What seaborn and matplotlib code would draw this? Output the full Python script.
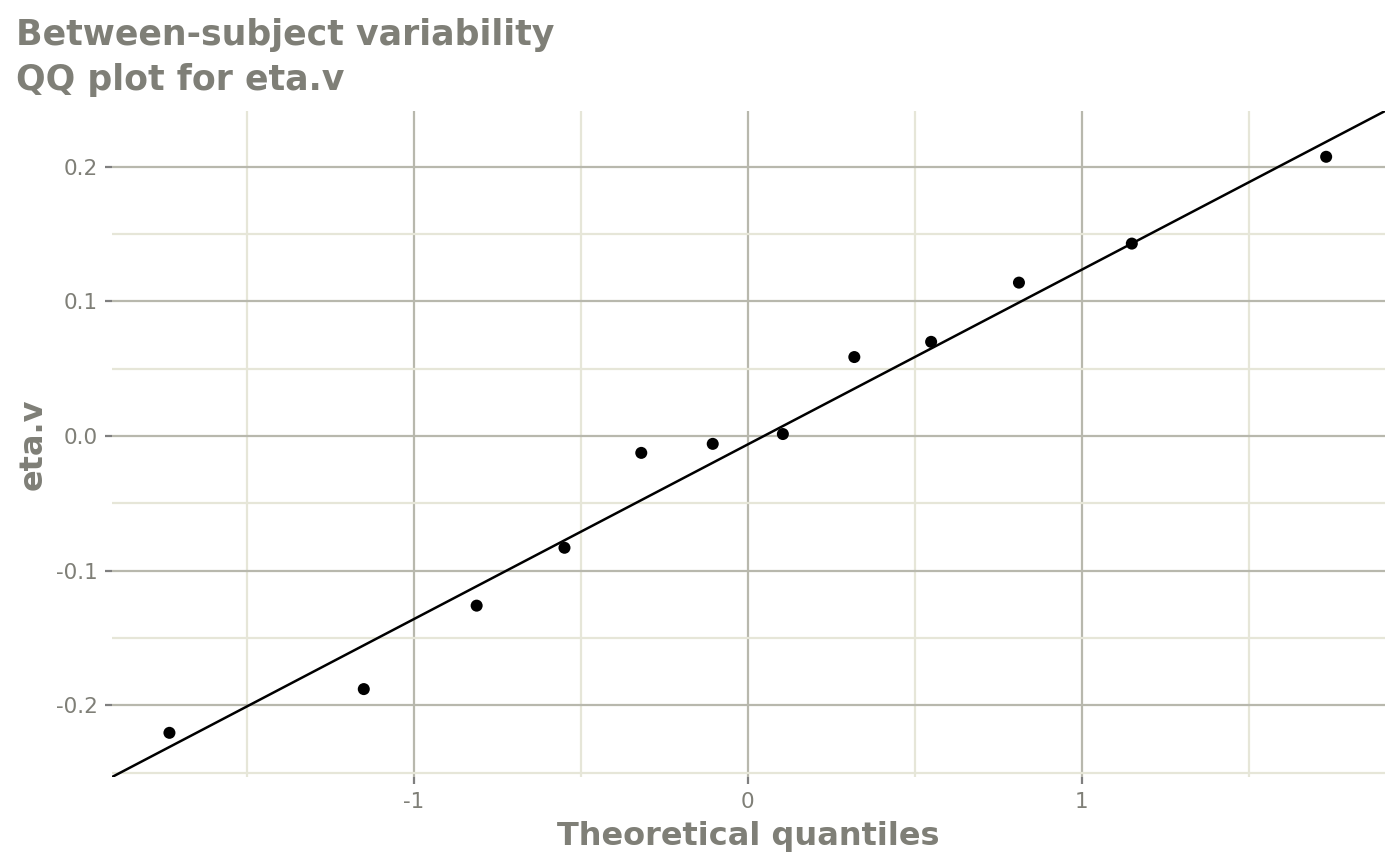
import numpy as np
import pandas as pd
import seaborn as sns
import matplotlib.pyplot as plt
from matplotlib.ticker import MultipleLocator

# theoretical quantiles and sample values
theoretical = [-1.732, -1.150, -0.812, -0.549, -0.319, -0.105,
               0.105, 0.319, 0.549, 0.812, 1.150, 1.732]
eta_v = [-0.2205, -0.188, -0.126, -0.083, -0.0125, -0.0058,
         0.0015, 0.0587, 0.0700, 0.1140, 0.1430, 0.2075]
line_intercept = -0.0062
line_slope = 0.1298

x_ticks = [-1, 0, 1]
x_tick_labels = ['-1', '0', '1']
y_ticks = [-0.2, -0.1, 0.0, 0.1, 0.2]
y_tick_labels = ['-0.2', '-0.1', '0.0', '0.1', '0.2']

df = pd.DataFrame({'theoretical': theoretical, 'eta.v': eta_v})

sns.set_theme(style='white')
plt.rcParams['font.family'] = ['DejaVu Sans']

grey_txt = '#7f7f77'
major_col = '#b8b8ad'
minor_col = '#e6e6d8'

fig = plt.figure(figsize=(14, 8.66), dpi=100)
ax = fig.add_axes([0.08, 0.1028, 0.909, 0.769])

sns.scatterplot(data=df, x='theoretical', y='eta.v', ax=ax, color='black',
                s=75, edgecolor='none', zorder=3)
ax.axline((0, line_intercept), slope=line_slope, color='black', lw=1.8, zorder=2)

ax.set_xlim(-1.904, 1.907)
ax.set_ylim(-0.2533, 0.2415)

ax.set_xticks(x_ticks)
ax.set_xticklabels(x_tick_labels)
ax.set_yticks(y_ticks)
ax.set_yticklabels(y_tick_labels)
ax.xaxis.set_minor_locator(MultipleLocator(0.5))
ax.yaxis.set_minor_locator(MultipleLocator(0.05))

ax.grid(True, which='major', color=major_col, lw=1.6, zorder=0)
ax.grid(True, which='minor', color=minor_col, lw=1.6, zorder=0)
ax.set_axisbelow(True)
for s in ax.spines.values():
    s.set_visible(False)

ax.tick_params(axis='both', which='major', length=5, width=1.6, color='#7f7f7f',
               labelcolor=grey_txt, labelsize=15.5, pad=5.5, left=True, bottom=True)
ax.tick_params(axis='both', which='minor', length=0)

ax.set_xlabel('Theoretical quantiles', fontsize=23, fontweight='bold', color=grey_txt, labelpad=7)
ax.set_ylabel('eta.v', fontsize=23, fontweight='bold', color=grey_txt, labelpad=5)

fig.text(16 / 1400, 1 - 18 / 866, 'Between-subject variability\nQQ plot for eta.v',
         ha='left', va='top', fontsize=25, fontweight='bold', color=grey_txt,
         linespacing=1.4)

fig.savefig('out.png', dpi=100)
